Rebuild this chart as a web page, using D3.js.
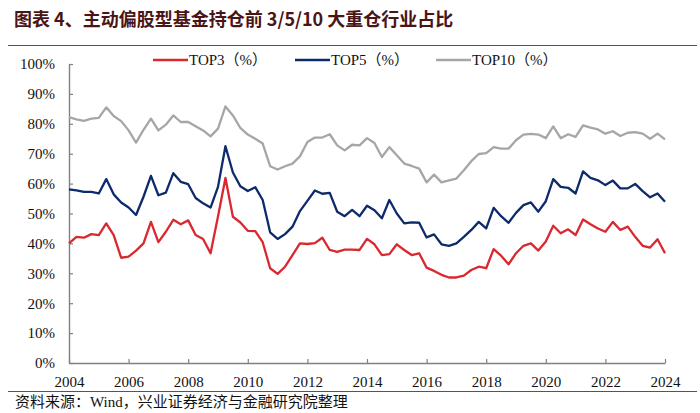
<!DOCTYPE html>
<html>
<head>
<meta charset="utf-8">
<script src="https://cdn.jsdelivr.net/npm/d3@7/dist/d3.min.js"></script>
<style>
  html, body { margin: 0; padding: 0; background: #fff; }
  svg { display: block; }
</style>
</head>
<body>
<svg id="chart" width="700" height="413"></svg>
<script>
// ---- Data (quarterly, 2004Q1 .. 2024Q1) ----
const startYear = 2004;
const top3 = [40.0,42.2,41.9,43.1,42.8,46.7,42.8,35.2,35.6,37.6,
  40.0,47.2,40.4,43.9,47.9,46.4,47.7,42.8,41.5,36.7,
  49.0,61.9,48.9,47.0,44.2,44.1,40.4,31.7,29.8,32.2,
  36.1,40.0,39.8,40.1,41.9,37.8,37.2,37.9,37.9,37.8,
  41.5,39.7,36.1,36.4,39.7,37.8,36.1,36.7,31.9,30.8,
  29.5,28.6,28.6,29.2,31.1,32.2,31.7,38.1,35.9,33.0,
  36.7,39.2,40.0,37.6,40.6,45.9,43.4,44.7,42.8,48.0,
  46.4,45.0,43.9,47.2,44.5,45.6,42.2,39.2,38.6,41.4,36.7];
const top5 = [58.1,57.7,57.2,57.2,56.7,61.5,56.4,53.7,52.0,49.5,
  55.6,62.6,56.1,57.0,63.5,60.6,59.8,55.2,53.4,52.0,
  58.9,72.5,63.7,59.1,57.5,58.8,54.5,43.7,41.5,43.1,
  45.6,50.8,54.2,57.7,56.6,56.9,50.6,49.1,51.2,49.1,
  52.6,51.1,48.4,54.5,50.0,46.7,47.0,46.9,42.0,43.0,
  39.7,39.2,40.0,42.2,44.5,47.2,45.0,51.9,49.1,46.9,
  50.2,52.8,53.7,50.6,54.1,61.5,58.9,58.6,56.7,64.1,
  61.9,61.1,59.5,61.0,58.4,58.4,59.9,57.5,55.4,56.7,53.9];
const top10 = [82.2,81.5,81.0,81.7,82.0,85.5,82.6,80.9,77.8,73.7,
  78.0,81.7,77.8,79.7,82.8,80.6,80.6,79.2,77.8,75.8,
  78.4,85.8,82.8,78.6,76.4,75.0,73.4,65.8,64.7,65.8,
  66.7,69.1,73.9,75.4,75.4,76.5,72.8,71.1,73.0,72.8,
  75.2,73.6,68.9,72.2,69.5,66.7,65.9,65.0,60.4,63.0,
  60.4,61.1,61.7,64.5,67.5,69.9,70.2,72.2,71.7,71.7,
  74.5,76.4,76.6,76.4,75.2,79.1,75.2,76.5,75.6,79.5,
  78.7,78.1,76.7,77.5,75.9,77.0,77.2,76.7,75.0,76.7,74.8];
const xTicks = [2004,2006,2008,2010,2012,2014,2016,2018,2020,2022,2024];
const yTicks = [0,10,20,30,40,50,60,70,80,90,100];
const seriesNames = ["TOP3（%）","TOP5（%）","TOP10（%）"];
const seriesColors = ["#d9282f","#0d2a6b","#a6a6a6"];
const titleText = "图表 4、主动偏股型基金持仓前 3/5/10 大重仓行业占比";
const sourceText = "资料来源：Wind，兴业证券经济与金融研究院整理";

// ---- Drawing ----
const svg = d3.select("#chart");
const serif = "'Liberation Serif','Times New Roman','Noto Sans CJK SC',serif";
const axisColor = "#808080";

const x = d3.scaleLinear().domain([2004, 2024]).range([69, 665]);
const y = d3.scaleLinear().domain([0, 100]).range([363, 64]);

// Title
svg.append("text")
  .attr("x", 14).attr("y", 26)
  .attr("font-family", "'Noto Sans CJK SC',sans-serif")
  .attr("font-weight", "bold")
  .attr("font-size", 18)
  .attr("fill", "#4a1515")
  .text(titleText);

// Rules
svg.append("line").attr("x1", 8).attr("x2", 697).attr("y1", 45.5).attr("y2", 45.5)
  .attr("stroke", "#555").attr("stroke-width", 1.2);
svg.append("line").attr("x1", 8).attr("x2", 697).attr("y1", 391.5).attr("y2", 391.5)
  .attr("stroke", "#555").attr("stroke-width", 1.2);

// Source
svg.append("text")
  .attr("x", 15).attr("y", 407)
  .attr("font-family", serif)
  .attr("font-size", 15)
  .attr("fill", "#111")
  .text(sourceText);

// Y axis
const yAxis = d3.axisLeft(y).tickValues(yTicks).tickFormat(d => d + "%")
  .tickSizeInner(-4).tickSizeOuter(0).tickPadding(14);
const gy = svg.append("g").attr("transform", "translate(69,0)").call(yAxis);
gy.select(".domain").attr("stroke", axisColor).attr("stroke-width", 1.4);
gy.selectAll(".tick line").attr("stroke", axisColor).attr("stroke-width", 1.2);
gy.selectAll("text").attr("font-family", serif).attr("font-size", 15).attr("fill", "#111");

// X axis
const xAxis = d3.axisBottom(x).tickValues(xTicks).tickFormat(d3.format("d"))
  .tickSizeInner(-4).tickSizeOuter(0).tickPadding(13);
const gx = svg.append("g").attr("transform", "translate(0,363)").call(xAxis);
gx.select(".domain").attr("stroke", axisColor).attr("stroke-width", 1.4);
gx.selectAll(".tick line").attr("stroke", axisColor).attr("stroke-width", 1.2);
gx.selectAll("text").attr("font-family", serif).attr("font-size", 15).attr("fill", "#111");

// Lines
const allSeries = [top3, top5, top10];
const line = d3.line()
  .x((d, i) => x(startYear + i * 0.25))
  .y(d => y(d));
// draw gray first, then blue, then red on top
[2, 1, 0].forEach(k => {
  svg.append("path")
    .datum(allSeries[k])
    .attr("fill", "none")
    .attr("stroke", seriesColors[k])
    .attr("stroke-width", 2.3)
    .attr("stroke-linejoin", "round")
    .attr("d", line);
});

// Legend
const legendX = [153, 295, 436];
seriesNames.forEach((name, k) => {
  const g = svg.append("g").attr("transform", `translate(${legendX[k]},60)`);
  g.append("line").attr("x1", 0).attr("x2", 35).attr("y1", 0).attr("y2", 0)
    .attr("stroke", seriesColors[k]).attr("stroke-width", 2.3);
  g.append("text").attr("x", 36).attr("y", 5)
    .attr("font-family", serif).attr("font-size", 15).attr("fill", "#111")
    .text(name);
});
</script>
</body>
</html>
